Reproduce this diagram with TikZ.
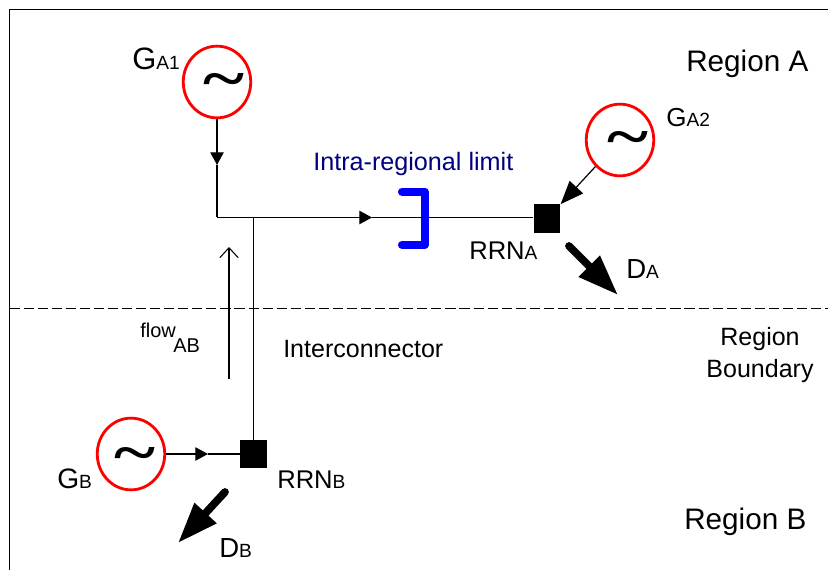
\documentclass[tikz,border=0pt]{standalone}
\usepackage{fontspec}
\setmainfont{Liberation Sans}
\newfontfamily\tildefont{Liberation Serif}
\usetikzlibrary{arrows.meta,shapes.geometric}
\definecolor{limitblue}{RGB}{0,0,255}
\definecolor{limitnavy}{RGB}{0,0,128}

% big letters with small letters on the same baseline
\newcommand{\biglabel}[3]{{\fontsize{#1}{#1}\selectfont #2\fontsize{13.6}{13.6}\selectfont #3}}
% sits right of the circle centre by half of #1, #2 moves it down
\newcommand{\wave}[2]{\makebox[0pt][c]{\hspace*{#1}\raisebox{#2}[0pt][0pt]{\scalebox{1}[0.75]{\tildefont\bfseries\fontsize{56}{56}\selectfont\textasciitilde}}}}

\tikzset{
  gen/.style={ellipse, draw=red, line width=2pt, minimum width=48pt, minimum height=51pt, inner sep=0pt},
  bus/.style={rectangle, fill=black, minimum width=19pt, minimum height=20pt, inner sep=0pt},
  wire/.style={line width=0.85pt},
  wirehead/.style={wire, -{Triangle[length=9pt, width=9.5pt]}},
  demand/.style={line width=5.5pt, line cap=round, -{Triangle[length=29pt, width=20pt]}},
  txt/.style={anchor=base west, inner sep=0pt, font=\fontsize{17.8}{17.8}\selectfont}
}

\begin{document}
\begin{tikzpicture}[x=0.025cm, y=-0.025cm]
\useasboundingbox (0,0) rectangle (828,570);

\draw [line width=0.6pt] (9.5,570) -- (9.5,9.5) -- (828,9.5);
\draw [line width=0.6pt, dash pattern=on 7.2pt off 2.8pt] (9.5,308) -- (828,308);

\node [gen] (GA1) at (217,82) {\wave{10pt}{-11.5pt}};
\node [gen] (GA2) at (620,140) {\wave{11pt}{-11.5pt}};
\node [gen] (GB) at (131,454) {\wave{6pt}{-13.5pt}};
\node [bus] (RRNA) at (547,218.5) {};
\node [bus] (RRNB) at (253.7,454) {};

\coordinate (corner) at (217,217.5);
\coordinate (headGA1) at (217,165);
\coordinate (headflow) at (372,217.5);
\coordinate (tee) at (253.7,217.5);
\coordinate (headGB) at (208,454);

% limit goes under the line
\draw [limitblue, line width=5.8pt, line cap=round, line join=round] (402,191.7) -- (424.7,191.7) -- (424.7,244.8) -- (402,244.8);

\draw [wirehead] (GA1.south) -- (headGA1);
\draw [wire] (headGA1) -- (corner);
\draw [wirehead] (corner) -- (headflow);
\draw [wire] (headflow) -- (RRNA.west |- headflow);
\draw [wire] (tee) -- (RRNB.north);
\draw [wirehead] (GB.east) -- (headGB);
\draw [wire] (headGB) -- (RRNB.west);
\draw [wire, -{Triangle[length=16.5pt, width=13pt]}] (GA2) -- (RRNA.north east);

% flow direction
\coordinate (flowstart) at (229,379);
\coordinate (flowend) at (229,247);
\draw [line width=0.75pt, -{Straight Barb[length=7pt, width=13pt]}] (flowstart) -- (flowend);

% demand
\coordinate (DAstart) at (569,246);
\coordinate (DAend) at (618,295);
\coordinate (DBstart) at (225,492);
\coordinate (DBend) at (178,543);
\draw [demand] (DAstart) -- (DAend);
\draw [demand] (DBstart) -- (DBend);

\node [txt, font=\fontsize{21.1}{21.1}\selectfont] (regionA) at (686,72) {Region A};
\node [txt, font=\fontsize{21.1}{21.1}\selectfont] (regionB) at (684,529) {Region B};
\node [txt, text=limitnavy, font=\fontsize{17.9}{17.9}\selectfont] (limit) at (313,171) {Intra-regional limit};
\node [txt] (inter) at (283,357) {Interconnector};
\node [txt, anchor=base] (boundary1) at (760,345) {Region};
\node [txt, anchor=base] (boundary2) at (760,377) {Boundary};

\node [txt] (labelGA1) at (132,70) {\biglabel{22}{G}{A1}};
\node [txt] (labelGA2) at (666,127) {\biglabel{18.5}{G}{A2}};
\node [txt] (labelGB) at (57,488) {\biglabel{20}{G}{B}};
\node [txt] (labelRRNA) at (469,260) {\biglabel{18.2}{RRN}{A}};
\node [txt] (labelRRNB) at (277,488) {\biglabel{18.2}{RRN}{B}};
\node [txt] (labelDA) at (626,279) {\biglabel{19.6}{D}{A}};
\node [txt] (labelDB) at (219,557) {\biglabel{19.6}{D}{B}};

\node [txt, font=\fontsize{14.2}{14.2}\selectfont] (flow) at (140,337) {flow};
\node [txt, font=\fontsize{14.2}{14.2}\selectfont] (flowAB) at (173,352) {AB};
\end{tikzpicture}
\end{document}
